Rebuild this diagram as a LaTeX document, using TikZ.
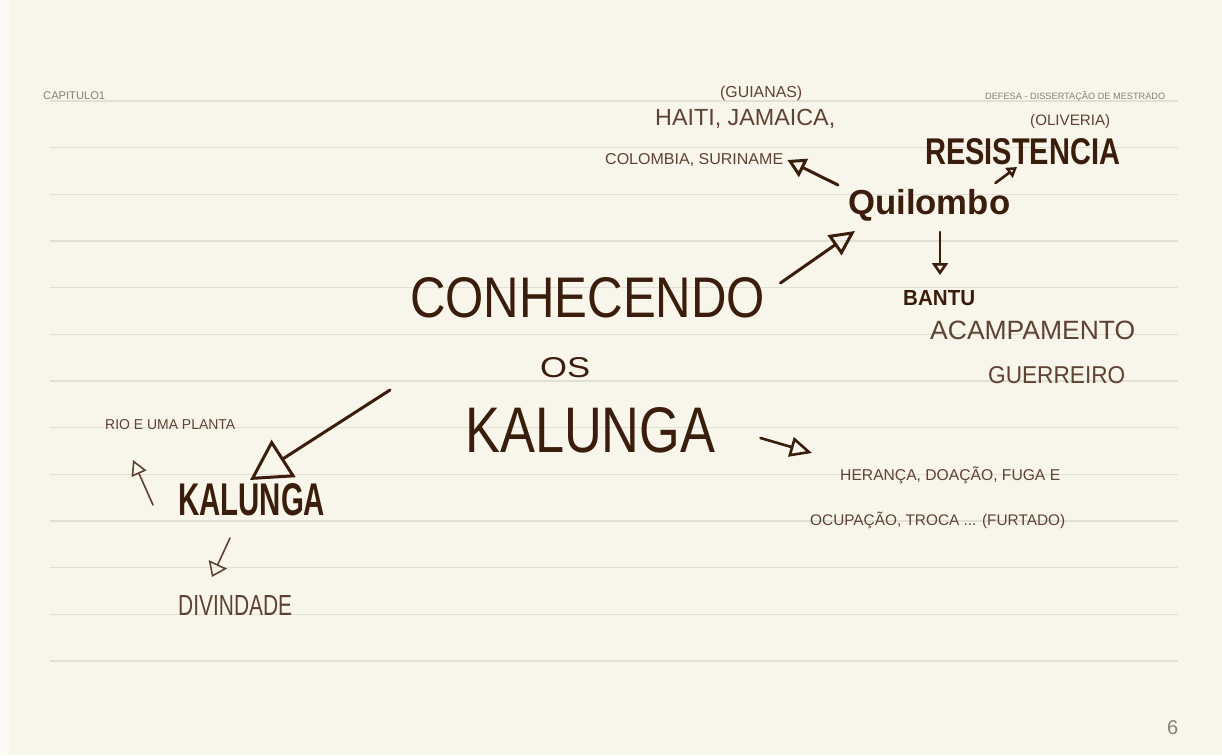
\documentclass[tikz,border=0pt]{standalone}
\usepackage{fontspec}
\setmainfont{Liberation Sans}
\usetikzlibrary{arrows.meta,calc}
\definecolor{paper}{HTML}{F8F5EA}
\definecolor{margincol}{HTML}{FBFAF5}
\definecolor{rulecol}{HTML}{E2DFD5}
\definecolor{ink}{HTML}{3B1D0C}
\definecolor{pen}{HTML}{5E4333}
\definecolor{graytxt}{HTML}{85807A}
\newcommand{\fitw}[2]{\resizebox{#1}{!}{#2}}
\newcommand{\fitwh}[3]{\resizebox{#1}{#2}{#3}}
\begin{document}
\begin{tikzpicture}[x=1pt,y=-1pt,
  txt/.style={inner sep=0pt, anchor=west},
  inkarr/.style={draw=ink, line cap=round, line join=round},
  penarr/.style={draw=pen, line cap=round, line join=round}]
\useasboundingbox (0,0) rectangle (1222,755);
\fill[paper] (0,0) rectangle (1222,755);
\fill[margincol] (0,0) rectangle (9,755);
\foreach \i in {0,...,12} \draw[rulecol, line width=1.2pt] (50,{101+46.67*\i}) -- (1178,{101+46.67*\i});

\node[txt,text=graytxt] (cap) at (43,96) {\fitw{62pt}{CAPITULO1}};
\node[txt,text=graytxt] (defesa) at (985,96) {\fitw{180pt}{DEFESA - DISSERTAÇÃO DE MESTRADO}};
\node[txt,text=pen] (oliv) at (1030,122) {\fitw{80pt}{(OLIVERIA)}};
\node[txt,text=ink] (resist) at (925,152) {\fitwh{195pt}{26pt}{\bfseries RESISTENCIA}};
\node[txt,text=pen] (guianas) at (720,93) {\fitw{82pt}{(GUIANAS)}};
\node[txt,text=pen] (haiti) at (655,119) {\fitw{180pt}{HAITI, JAMAICA,}};
\node[txt,text=pen] (colombia) at (605,160) {\fitwh{178pt}{11pt}{COLOMBIA, SURINAME}};
\node[txt,text=ink] (quil) at (848,205) {\fitw{162pt}{\bfseries Quilombo}};
\node[txt,text=ink] (bantu) at (903,298) {\fitwh{72pt}{15pt}{\bfseries BANTU}};
\node[txt,text=pen] (acamp) at (930,330) {\fitw{205pt}{ACAMPAMENTO}};
\node[txt,text=pen] (guerr) at (988,375) {\fitwh{137pt}{17pt}{GUERREIRO}};
\node[txt,text=ink] (conh) at (410,298) {\fitwh{355pt}{40pt}{CONHECENDO}};
\node[txt,text=ink] (os) at (540,368) {\fitwh{50pt}{20pt}{OS}};
\node[txt,text=ink] (kal) at (465,430) {\fitwh{250pt}{45pt}{KALUNGA}};
\node[txt,text=pen] (heranca) at (840,475) {\fitw{220pt}{HERANÇA, DOAÇÃO, FUGA E}};
\node[txt,text=pen] (ocup) at (810,520) {\fitw{255pt}{OCUPAÇÃO, TROCA ... (FURTADO)}};
\node[txt,text=pen] (rio) at (105,425) {\fitwh{130pt}{10pt}{RIO E UMA PLANTA}};
\node[txt,text=ink] (kal2) at (178,500) {\fitwh{147pt}{32pt}{\bfseries KALUNGA}};
\node[txt,text=pen] (div) at (178,605) {\fitwh{114pt}{20pt}{DIVINDADE}};
\node[txt,text=graytxt] (pg) at (1167,728) {\fontsize{20}{20}\selectfont 6};

% arrows
\draw[inkarr, line width=3pt, -{Triangle[open,length=25pt,width=24pt,line width=3pt]}]
  ([shift={(15,-15)}]conh.east) -- ([shift={(7,26)}]quil.west);
\draw[inkarr, line width=3pt, -{Triangle[open,length=18pt,width=20pt,line width=3pt]}]
  ([shift={(-10,-20)}]quil.west) -- ([shift={(4,0)}]colombia.east);
\draw[inkarr, line width=2.6pt, -{Triangle[open,length=10pt,width=12pt,line width=2.6pt]}]
  ([shift={(-15,-22)}]quil.east) -- ([shift={(92,15)}]resist.west);
\draw[inkarr, line width=2.8pt, -{Triangle[open,length=12pt,width=16pt,line width=2.6pt]}]
  ([shift={(92,27)}]quil.west) -- ([shift={(37,-23)}]bantu.west);
\draw[inkarr, line width=3pt, -{Triangle[open,length=40pt,width=44pt,line width=3pt]}]
  ([shift={(-20,92)}]conh.west) -- ([shift={(72,-20)}]kal2.west);
\draw[inkarr, line width=2.6pt, -{Triangle[open,length=22pt,width=20pt,line width=2.6pt]}]
  ([shift={(45,8)}]kal.east) -- ([shift={(-28,-22)}]heranca.west);
\draw[penarr, line width=1.6pt, -{Triangle[open,length=15pt,width=16pt,line width=1.6pt]}]
  ([shift={(-25,5)}]kal2.west) -- ([shift={(28,35)}]rio.west);
\draw[penarr, line width=1.6pt, -{Triangle[open,length=14pt,width=20pt,line width=1.6pt]}]
  ([shift={(52,38)}]kal2.west) -- ([shift={(34,-28)}]div.west);
\end{tikzpicture}
\end{document}
